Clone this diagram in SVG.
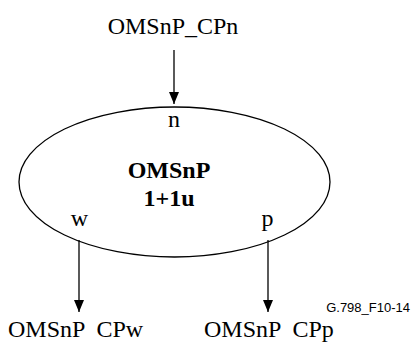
<svg xmlns="http://www.w3.org/2000/svg" width="412" height="343" viewBox="0 0 412 343">
<style>
.t{font-family:"Liberation Serif","Times New Roman",serif;font-size:24px;fill:#000}
.b{font-weight:bold}
.s{font-family:"Liberation Sans",Arial,sans-serif;font-size:13px;fill:#000}
.ln{stroke:#000;stroke-width:1.3;fill:none}
</style>
<defs>
<marker id="ah" markerWidth="12" markerHeight="10" refX="12" refY="5" orient="auto" markerUnits="userSpaceOnUse" viewBox="0 0 12 10">
<path d="M0,0 L12,5 L0,10 Z" fill="#000"/>
</marker>
</defs>
<g id="connectors">
<line class="ln" x1="174" y1="50" x2="174" y2="104" marker-end="url(#ah)"/>
<line class="ln" x1="79" y1="240" x2="79" y2="312" marker-end="url(#ah)"/>
<line class="ln" x1="268" y1="240" x2="268" y2="312" marker-end="url(#ah)"/>
</g>
<g id="cpn"><text class="t" x="173" y="34" text-anchor="middle">OMSnP_CPn</text></g>
<g id="omsnp">
<ellipse class="ln" cx="174.5" cy="182" rx="155.5" ry="75"/>
<text class="t" x="174" y="127" text-anchor="middle">n</text>
<text class="t b" x="169" y="178" text-anchor="middle">OMSnP</text>
<text class="t b" x="169" y="206" text-anchor="middle">1+1u</text>
<text class="t" x="79.5" y="226" text-anchor="middle">w</text>
<text class="t" x="267.5" y="226" text-anchor="middle">p</text>
</g>
<g id="cpw"><text class="t" x="8" y="337" xml:space="preserve">OMSnP  CPw</text></g>
<g id="cpp"><text class="t" x="204" y="337" xml:space="preserve">OMSnP  CPp</text></g>
<g id="label"><text class="s" x="410" y="312" text-anchor="end">G.798_F10-14</text></g>
</svg>
